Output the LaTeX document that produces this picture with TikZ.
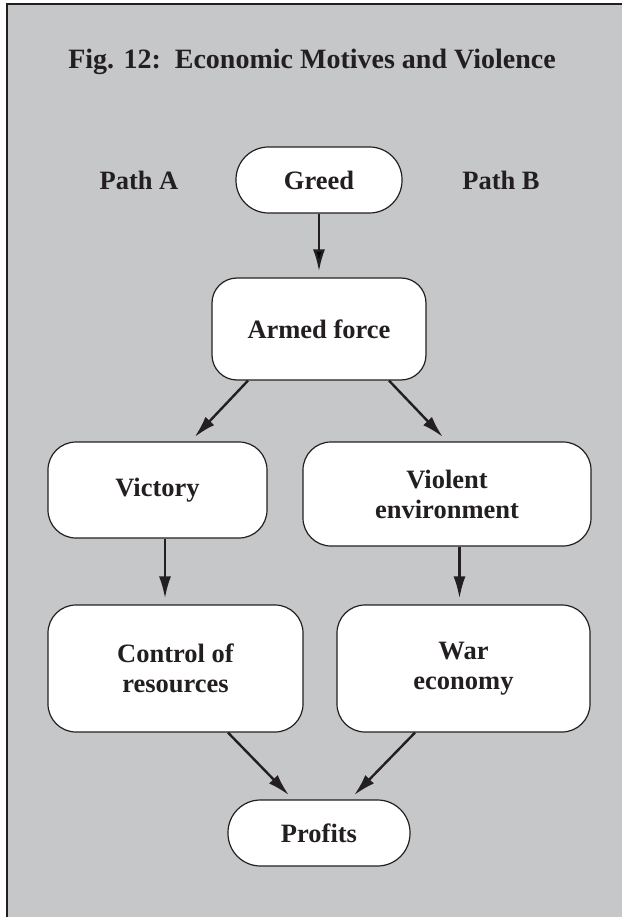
\documentclass[tikz,border=0pt]{standalone}
\usepackage{fontspec}
\setmainfont{Liberation Serif}
\usetikzlibrary{positioning,arrows.meta}
\definecolor{panelgray}{HTML}{C6C7C9}
\definecolor{inkdark}{HTML}{231F20}

\begin{document}
\begin{tikzpicture}[node distance=149pt, x=1pt, y=1pt]

\def\pillheight{66pt};
\def\boxradius{28pt};
\def\nodefont{\fontsize{26.5}{30}\selectfont\bfseries};
\tikzset{flow box/.style={
    rectangle,
    draw=inkdark,
    fill=white,
    line width=1.2pt,
    rounded corners=\boxradius,
    align=center,
    text=inkdark,
    font=\nodefont,
    inner sep=0pt
}};
\tikzset{pill box/.style={
    flow box,
    rounded corners=32.5pt,
    minimum height=\pillheight
}};
\tikzset{path label/.style={
    text=inkdark,
    font=\nodefont
}};
\tikzset{flow arrow/.style={
    draw=inkdark,
    line width=2.4pt,
    -{Latex[length=22pt,width=12pt]},
    shorten >=6pt
}};

% panel, only its left and top edges show
\useasboundingbox (-319,180) rectangle (303,-737);
\fill[panelgray] (-312,176) rectangle (303,-737);
\draw[inkdark, line width=2pt] (-312,-737) -- (-312,176) -- (303,176);

\node[pill box, minimum width=166pt] (greed) {Greed};
\node[path label] (patha) [xshift=-180pt] {Path A};
\node[path label] (pathb) [xshift=182pt] {Path B};
\node[path label, font=\fontsize{28}{32}\selectfont\bfseries] (title)
    [xshift=-7pt, yshift=118pt] {Fig. 12:\ \ Economic Motives and Violence};

\node[flow box, below of=greed, minimum width=214pt, minimum height=102pt,
    rounded corners=25pt] (armed) {Armed force};
\node[flow box, below of=armed, node distance=161pt, minimum width=219pt,
    minimum height=96pt] (victory) [xshift=-161.5pt] {Victory};
\node[flow box, below of=armed, node distance=165pt, minimum width=288pt,
    minimum height=104pt] (violent) [xshift=128pt] {Violent\\environment};
\node[flow box, below of=victory, node distance=178.5pt, minimum width=255pt,
    minimum height=127pt] (control) [xshift=18pt] {Control of\\resources};
\node[flow box, below of=violent, node distance=174.5pt, minimum width=253pt,
    minimum height=127pt] (wareco) [xshift=16.5pt] {War\\economy};
\node[pill box, below of=armed, node distance=504pt, minimum width=182pt] (profits) {Profits};

\path[flow arrow] (greed) edge (armed);
\draw[flow arrow] ([xshift=-71pt]armed.south) -- ([xshift=33pt]victory.north);
\draw[flow arrow] ([xshift=70pt]armed.south) -- (violent.north);
\draw[flow arrow] ([xshift=7.5pt]victory.south) -- ([xshift=-10.5pt]control.north);
\draw[flow arrow] ([xshift=12.5pt]violent.south) -- ([xshift=-4pt]wareco.north);
\draw[flow arrow] ([xshift=52.5pt]control.south) -- ([xshift=-26pt]profits.north);
\draw[flow arrow] ([xshift=-48.5pt]wareco.south) -- ([xshift=31pt]profits.north);
\end{tikzpicture}
\end{document}
